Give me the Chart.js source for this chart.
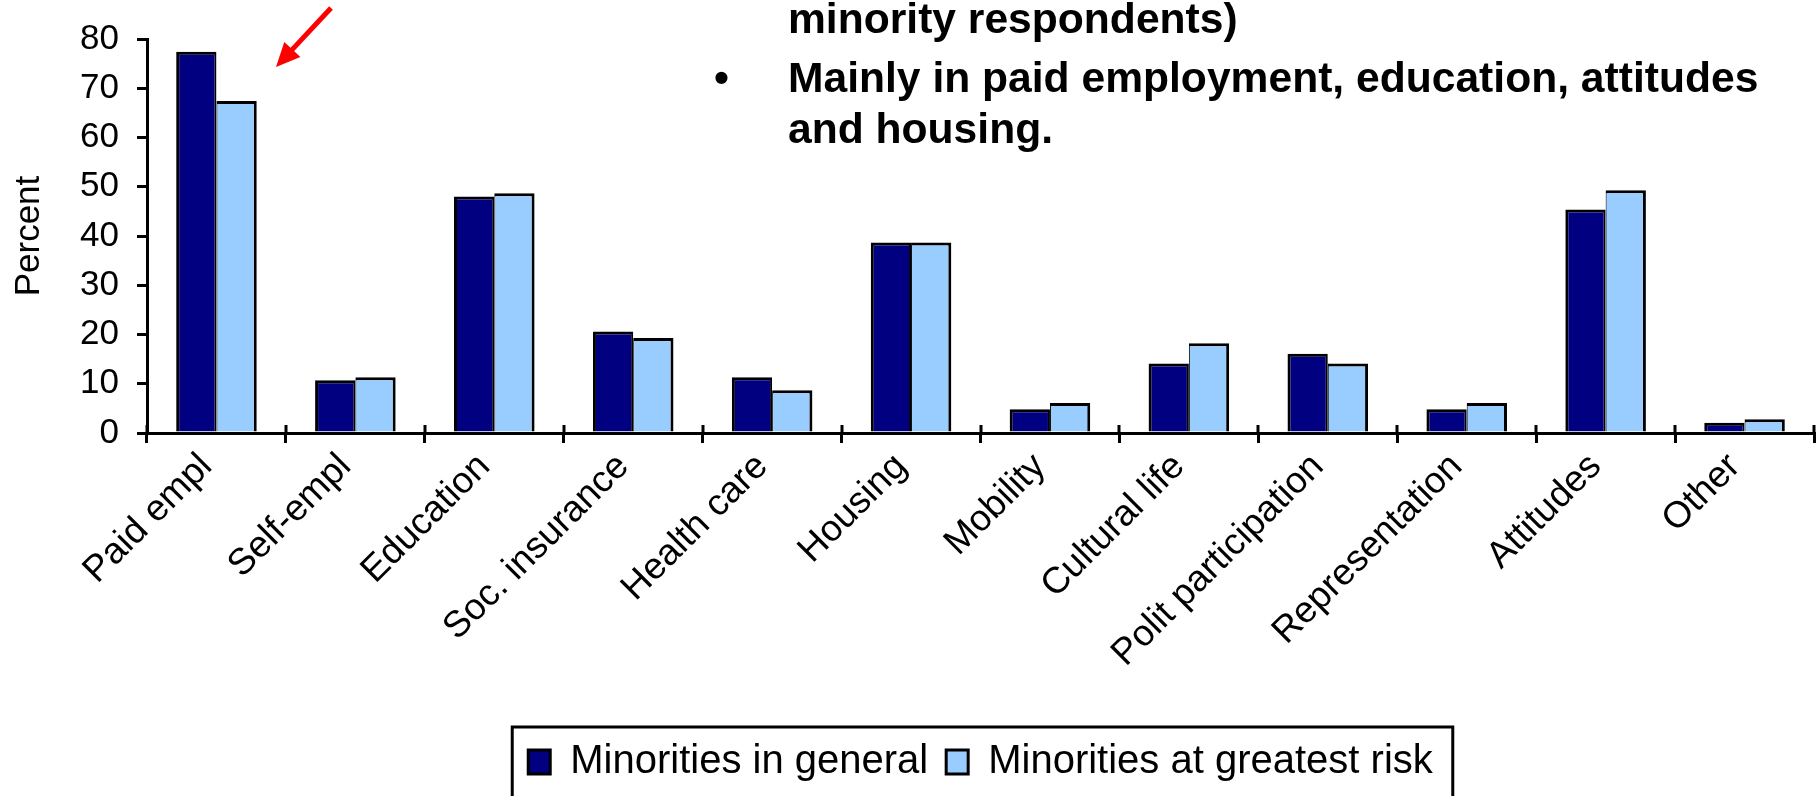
<!doctype html>
<html lang="en">
  <head>
    <meta charset="UTF-8" />
    <title>Minorities - areas of discrimination</title>
    <script src="https://cdn.jsdelivr.net/npm/chart.js@4.4.1/dist/chart.umd.min.js"></script>
    <style>
      html, body { margin: 0; padding: 0; background: #fff; overflow: hidden; }
      #wrap { width: 1820px; height: 796px; overflow: hidden; }
    </style>
  </head>
  <body>
    <div id="wrap"><canvas id="myChart" width="1820" height="800"></canvas></div>

    <script>
      // values
      const categories = ['Paid empl', 'Self-empl', 'Education', 'Soc. insurance', 'Health care', 'Housing',
        'Mobility', 'Cultural life', 'Polit participation', 'Representation', 'Attitudes', 'Other'];
      const generalValues = [77.4, 10.7, 48.0, 20.6, 11.3, 38.7, 4.8, 14.1, 16.1, 4.8, 45.4, 2.1];
      const greatestRiskValues = [67.4, 11.3, 48.7, 19.3, 8.7, 38.7, 6.1, 18.2, 14.1, 6.1, 49.3, 2.8];
      const seriesNames = ['Minorities in general', 'Minorities at greatest risk'];
      const yMin = 0, yMax = 80, yStep = 10;

      // slide text sitting over the chart
      const noteLines = ['minority respondents)', 'Mainly in paid employment, education, attitudes', 'and housing.'];

      const FONT = "'Liberation Sans', Arial, sans-serif";

      // legend frame + slide text + red arrow
      const slideExtras = {
        id: 'slideExtras',
        afterDraw(chart) {
          const ctx = chart.ctx;
          ctx.save();

          // legend frame
          const lg = chart.legend;
          const hb = lg.legendHitBoxes;
          if (hb && hb.length) {
            const last = hb[hb.length - 1];
            const x0 = hb[0].left - 16;
            const x1 = last.left + last.width + 20;
            const y0 = lg.top + lg.options.labels.padding - 15;
            ctx.strokeStyle = '#000';
            ctx.lineWidth = 3;
            ctx.strokeRect(x0, y0, x1 - x0, 120);
          }

          // upper half of the category ticks on x axis
          const xs = chart.scales.x;
          const n = categories.length;
          ctx.strokeStyle = '#000';
          ctx.lineWidth = 3;
          ctx.beginPath();
          for (let i = 0; i <= n; i++) {
            const x = Math.round(xs.left + i * xs.width / n);
            ctx.moveTo(x, xs.top - 8);
            ctx.lineTo(x, xs.top);
          }
          ctx.stroke();

          // bold bullet text
          ctx.fillStyle = '#000';
          ctx.font = 'bold 42.6px ' + FONT;
          ctx.textBaseline = 'alphabetic';
          ctx.fillText(noteLines[0], 788, 33);
          ctx.fillText('\u2022', 714, 92);
          ctx.fillText(noteLines[1], 788, 92);
          ctx.fillText(noteLines[2], 788, 143);

          // red arrow
          const from = {x: 331, y: 8}, tip = {x: 276, y: 67};
          const len = Math.hypot(tip.x - from.x, tip.y - from.y);
          const dx = (tip.x - from.x) / len, dy = (tip.y - from.y) / len;
          const headLen = 24, headHalf = 11;
          const bx = tip.x - dx * headLen, by = tip.y - dy * headLen;
          ctx.strokeStyle = '#ff0000';
          ctx.fillStyle = '#ff0000';
          ctx.lineWidth = 5;
          ctx.beginPath();
          ctx.moveTo(from.x, from.y);
          ctx.lineTo(bx + dx * 2, by + dy * 2);
          ctx.stroke();
          ctx.beginPath();
          ctx.moveTo(tip.x, tip.y);
          ctx.lineTo(bx - dy * headHalf, by + dx * headHalf);
          ctx.lineTo(bx + dy * headHalf, by - dx * headHalf);
          ctx.closePath();
          ctx.fill();

          ctx.restore();
        }
      };

      const ctx = document.getElementById('myChart').getContext('2d');
      const myChart = new Chart(ctx, {
        type: 'bar',
        data: {
          labels: categories,
          datasets: [
            {
              label: seriesNames[0],
              data: generalValues,
              backgroundColor: '#000080',
              borderColor: '#000',
              borderWidth: {left: 3, top: 3, right: 2, bottom: 0},
              borderSkipped: false
            },
            {
              label: seriesNames[1],
              data: greatestRiskValues,
              backgroundColor: '#99ccff',
              borderColor: '#000',
              borderWidth: {left: 1, top: 3, right: 3, bottom: 0},
              borderSkipped: false
            }
          ]
        },
        options: {
          responsive: false,
          animation: false,
          layout: { padding: { top: 38, right: 6, left: 0, bottom: 8 } },
          datasets: { bar: { categoryPercentage: 0.58, barPercentage: 1.0 } },
          scales: {
            x: {
              offset: true,
              grid: { display: true, drawOnChartArea: false, offset: true, tickLength: 10, lineWidth: 3, color: '#000' },
              border: { display: true, width: 3, color: '#000' },
              ticks: {
                autoSkip: false, minRotation: 45, maxRotation: 45, padding: 2, labelOffset: -10,
                color: '#000', font: { family: FONT, size: 37 }
              },
              afterFit(scale) { scale.height = 291; }
            },
            y: {
              min: yMin, max: yMax,
              grid: { display: true, drawOnChartArea: false, tickLength: 10, lineWidth: 3, color: '#000' },
              border: { display: true, width: 3, color: '#000' },
              ticks: { stepSize: yStep, padding: 18, color: '#000', font: { family: FONT, size: 35 } },
              title: { display: true, text: 'Percent', color: '#000', font: { family: FONT, size: 35 }, padding: { top: 8, bottom: 0 } },
              afterFit(scale) { scale.width = 147; }
            }
          },
          plugins: {
            tooltip: { enabled: false },
            legend: {
              position: 'bottom',
              fullSize: false,
              labels: {
                color: '#000',
                font: { family: FONT, size: 40 },
                boxWidth: 22, boxHeight: 24, padding: 18,
                generateLabels(chart) {
                  return Chart.defaults.plugins.legend.labels.generateLabels(chart)
                    .map(l => Object.assign(l, { lineWidth: 3, strokeStyle: '#000' }));
                }
              }
            }
          }
        },
        plugins: [slideExtras]
      });
    </script>
  </body>
</html>
